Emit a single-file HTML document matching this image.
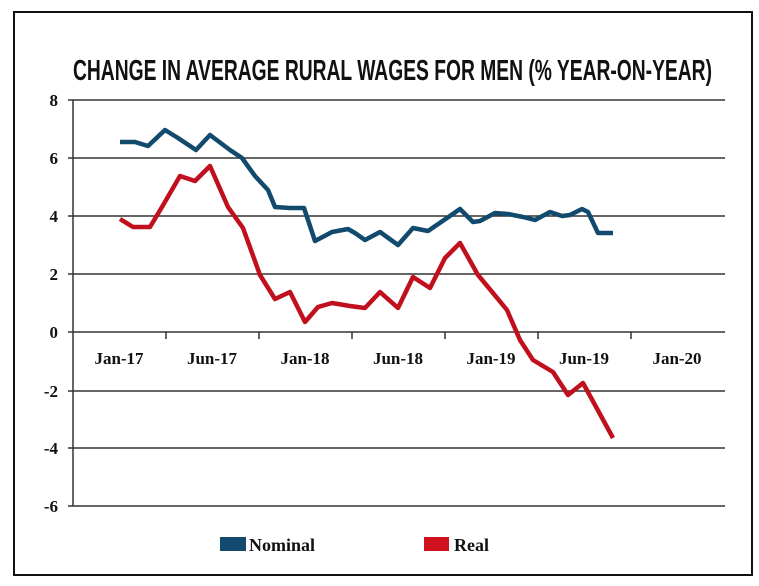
<!DOCTYPE html>
<html><head><style>
html,body{margin:0;padding:0;background:#fff;}
svg{display:block;}
</style></head><body>
<svg width="759" height="586" xmlns="http://www.w3.org/2000/svg">
<rect x="14" y="12" width="738" height="563" fill="none" stroke="#111" stroke-width="2"/>
<text x="73" y="80" font-family="Liberation Sans Narrow, Liberation Sans, sans-serif" font-size="29" font-weight="bold" textLength="639" lengthAdjust="spacingAndGlyphs" fill="#111">CHANGE IN AVERAGE RURAL WAGES FOR MEN (% YEAR-ON-YEAR)</text>
<g stroke="#333" stroke-width="1.5">
<line x1="68" y1="100" x2="725" y2="100"/>
<line x1="68" y1="158" x2="725" y2="158"/>
<line x1="68" y1="216" x2="725" y2="216"/>
<line x1="68" y1="274" x2="725" y2="274"/>
<line x1="68" y1="332" x2="725" y2="332"/>
<line x1="68" y1="391" x2="725" y2="391"/>
<line x1="68" y1="448" x2="725" y2="448"/>
<line x1="68" y1="506" x2="725" y2="506"/>
<line x1="73" y1="100" x2="73" y2="506"/>
<line x1="166" y1="332" x2="166" y2="339"/>
<line x1="259" y1="332" x2="259" y2="339"/>
<line x1="352" y1="332" x2="352" y2="339"/>
<line x1="445" y1="332" x2="445" y2="339"/>
<line x1="538" y1="332" x2="538" y2="339"/>
<line x1="631" y1="332" x2="631" y2="339"/>
</g>
<g font-family="Liberation Serif, serif" font-size="17" font-weight="bold" fill="#111" text-anchor="end">
<text x="58" y="106">8</text><text x="58" y="164">6</text><text x="58" y="222">4</text><text x="58" y="280">2</text><text x="58" y="338">0</text><text x="58" y="397">-2</text><text x="58" y="454">-4</text><text x="58" y="512">-6</text>
</g>
<g font-family="Liberation Serif, serif" font-size="17" font-weight="bold" fill="#111" text-anchor="middle">
<text x="119" y="364">Jan-17</text><text x="212" y="364">Jun-17</text><text x="305" y="364">Jan-18</text><text x="398" y="364">Jun-18</text><text x="491" y="364">Jan-19</text><text x="584" y="364">Jun-19</text><text x="677" y="364">Jan-20</text>
</g>
<polyline fill="none" stroke="#124a6e" stroke-width="4.5" stroke-linejoin="round" points="120,142 135,142 148,146 165,130 178,138 196,150 210,135 230,150 242,158 255,176 268,190 275,207 290,208 304,208 315,241 332,232 348,229 355,233 365,240 380,232 398,245 413,228 428,231 447,218 460,209 473,222 480,221 495,213 508,214 523,217 535,220 550,212 562,216 570,215 582,209 588,212 598,233 613,233"/>
<polyline fill="none" stroke="#c0101e" stroke-width="4.5" stroke-linejoin="round" points="120,219 133,227 150,227 162,207 180,176 195,181 210,166 228,207 243,228 260,275 275,299 290,292 305,322 318,307 332,303 350,306 365,308 380,292 398,308 413,277 430,288 445,258 460,243 478,275 493,293 507,310 520,340 533,360 553,372 568,395 583,383 613,438"/>
<rect x="220" y="537" width="26" height="14" fill="#124a6e"/>
<text x="249" y="551" font-family="Liberation Serif, serif" font-size="18" font-weight="bold" fill="#111">Nominal</text>
<rect x="424" y="537" width="25" height="14" fill="#d0101c"/>
<text x="454" y="551" font-family="Liberation Serif, serif" font-size="18" font-weight="bold" fill="#111">Real</text>
</svg>
</body></html>
